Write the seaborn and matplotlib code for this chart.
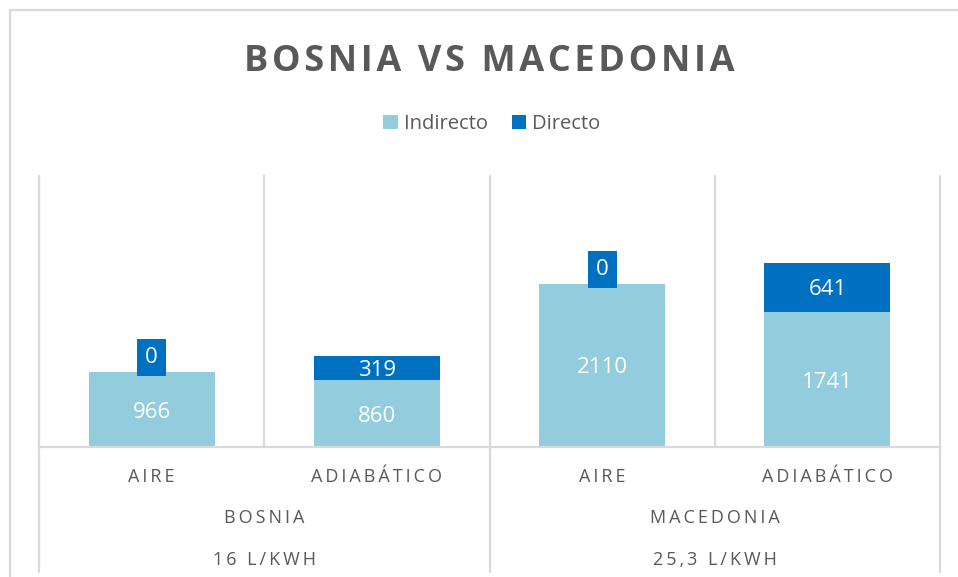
import matplotlib
matplotlib.use("Agg")
import matplotlib.pyplot as plt
import matplotlib.transforms as mtransforms
from matplotlib.lines import Line2D
from matplotlib.patches import Patch
import seaborn as sns
import pandas as pd

# ---- data -----------------------------------------------------------------
countries = ["BOSNIA", "MACEDONIA"]
intensities = ["16 L/KWH", "25,3 L/KWH"]
systems = ["AIRE", "ADIABÁTICO"]
indirecto = [966, 860, 2110, 1741]
directo = [0, 319, 0, 641]
series_names = ["Indirecto", "Directo"]

# ---- style ----------------------------------------------------------------
LIGHT = "#93CDDD"
DARK = "#0070C0"
GRID = "#D9D9D9"
TEXT = "#595959"

sns.set_theme(style="white")
plt.rcParams["font.family"] = ["Open Sans", "DejaVu Sans"]

THIN = "\u2009"
HAIR = "\u200A"


def spaced(s, sep):
    return sep.join(s)


W, H = 958, 577
fig = plt.figure(figsize=(W / 100, H / 100), dpi=100)
fig.patch.set_facecolor("white")
ax = fig.add_axes([39 / W, 1 - 447 / H, (940 - 39) / W, (447 - 176) / H])

cats = [f"{c}|{s}" for c in countries for s in systems]
df = pd.DataFrame({"cat": cats, "Indirecto": indirecto, "Directo": directo})
df["total"] = df["Indirecto"] + df["Directo"]

# stacked columns: full height in the Directo colour, Indirecto drawn over it
sns.barplot(data=df, x="cat", y="total", color=DARK, width=0.56,
            saturation=1, linewidth=0, errorbar=None, ax=ax)
sns.barplot(data=df, x="cat", y="Indirecto", color=LIGHT, width=0.56,
            saturation=1, linewidth=0, errorbar=None, ax=ax)

ax.set_xlim(-0.5, 3.5)
ax.set_ylim(0, 3500)
ax.set_xticks([])
ax.set_yticks([])
ax.set_xlabel("")
ax.set_ylabel("")
for side in ["top", "left", "right"]:
    ax.spines[side].set_visible(False)
ax.spines["bottom"].set_color(GRID)
ax.spines["bottom"].set_linewidth(1.6)

# category separators
xa = mtransforms.blended_transform_factory(ax.transData, ax.transAxes)
for x in [-0.5, 0.5, 1.5, 2.5, 3.5]:
    ax.plot([x, x], [0, 1], transform=xa, color=GRID, lw=1.6,
            clip_on=False, zorder=0)
for x in [-0.5, 1.5, 3.5]:
    ax.plot([x, x], [0, -125 / 271], transform=xa, color=GRID, lw=1.6,
            clip_on=False, zorder=0)

# value labels
PX = 0.72  # points per pixel at 100 dpi
for i, (ind, d) in enumerate(zip(indirecto, directo)):
    ax.annotate(str(ind), xy=(i, ind / 2), xytext=(0, -8 * PX),
                textcoords="offset points", ha="center", va="baseline",
                color="white", fontsize=16)
    if d > 0:
        ax.annotate(str(d), xy=(i, ind + d / 2), xytext=(0, -8 * PX),
                    textcoords="offset points", ha="center", va="baseline",
                    color="white", fontsize=16)
    else:
        ax.annotate(str(d), xy=(i, ind + d), xytext=(0, 14.5 * PX),
                    textcoords="offset points", ha="center", va="center",
                    color="white", fontsize=16,
                    bbox=dict(boxstyle="square,pad=0.36", fc=DARK, ec="none"))

# multi-level category axis
xf = mtransforms.blended_transform_factory(ax.transData, fig.transFigure)
for i, c in enumerate(cats):
    s = c.split("|")[1]
    ax.text(i, 1 - 482 / H, spaced(s, THIN), transform=xf, ha="center",
            va="baseline", fontsize=13, color=TEXT)
for g, (c, q) in enumerate(zip(countries, intensities)):
    xc = 2 * g + 0.5
    ax.text(xc, 1 - 523 / H, spaced(c, THIN), transform=xf, ha="center",
            va="baseline", fontsize=13, color=TEXT)
    ax.text(xc, 1 - 565 / H, spaced(q, THIN), transform=xf, ha="center",
            va="baseline", fontsize=13, color=TEXT)

# title and legend
fig.text(489 / W, 1 - 71 / H, spaced("BOSNIA VS MACEDONIA", HAIR),
         ha="center", va="baseline", fontsize=26, fontweight="bold",
         color=TEXT)
handles = [Patch(facecolor=LIGHT, edgecolor="none"),
           Patch(facecolor=DARK, edgecolor="none")]
fig.legend(handles, series_names, loc="center", ncol=2,
           bbox_to_anchor=(492 / W, 1 - 124 / H), frameon=False,
           fontsize=14.5, labelcolor=TEXT, handlelength=0.72,
           handleheight=0.72, handletextpad=0.3, columnspacing=1.2)

# chart area border
fig.add_artist(Line2D([9.5 / W, 9.5 / W], [1 - 9.5 / H, 0], color=GRID, lw=1.6))
fig.add_artist(Line2D([9.5 / W, 1], [1 - 9.5 / H, 1 - 9.5 / H], color=GRID, lw=1.6))

fig.savefig("out.png", dpi=100, facecolor="white")
